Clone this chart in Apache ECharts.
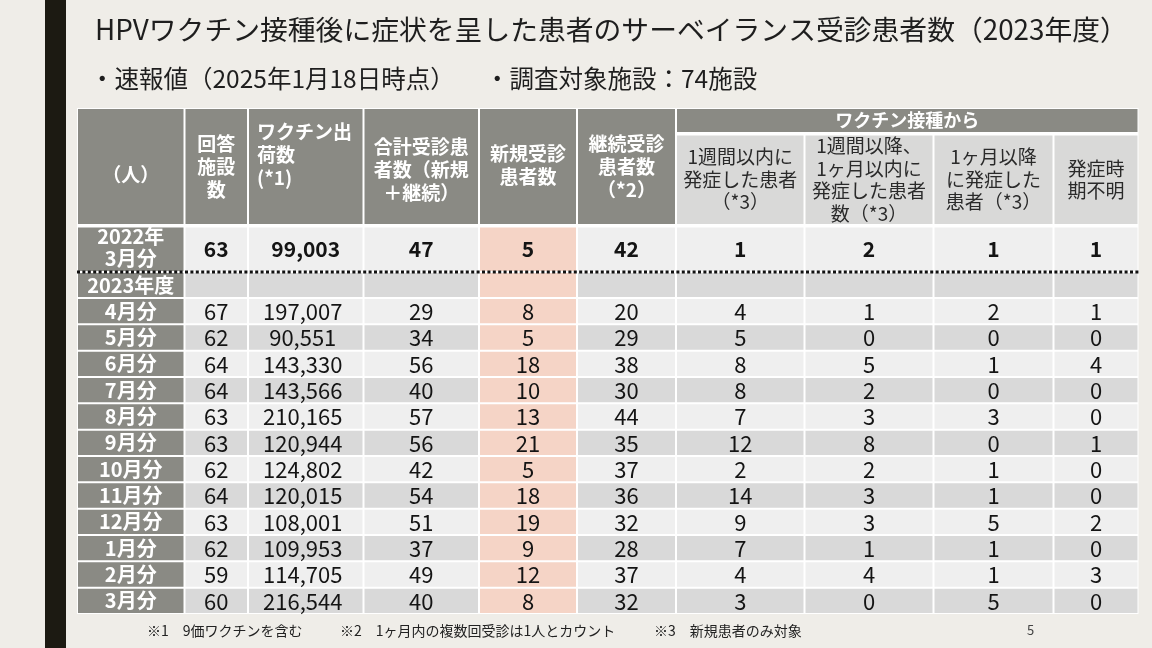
<!DOCTYPE html>
<html>
<head>
<meta charset="utf-8">
<script src="https://cdn.jsdelivr.net/npm/echarts@6/dist/echarts.min.js"></script>
<style>
html,body{margin:0;padding:0;background:#efede8;}
#main{width:1152px;height:648px;}
</style>
</head>
<body>
<div id="main"></div>
<script>
// ---------- data ----------
const titleText = 'HPVワクチン接種後に症状を呈した患者のサーベイランス受診患者数（2023年度）';
const subtitle1 = '・速報値（2025年1月18日時点）';
const subtitle2 = '・調査対象施設：74施設';
const footnotes = ['※1　9価ワクチンを含む', '※2　1ヶ月内の複数回受診は1人とカウント', '※3　新規患者のみ対象'];
const pageNo = '5';

const headerLabels = ['（人）', '回答\n施設\n数', 'ワクチン出\n荷数\n(*1)', '合計受診患\n者数（新規\n＋継続）', '新規受診\n患者数', '継続受診\n患者数\n（*2）'];
const bandLabel = 'ワクチン接種から';
const subLabels = ['1週間以内に\n発症した患者\n（*3）', '1週間以降、\n1ヶ月以内に\n発症した患者\n数（*3）', '1ヶ月以降\nに発症した\n患者（*3）', '発症時\n期不明'];

const baseLabel = '2022年\n3月分';
const baseValues = [63, 99003, 47, 5, 42, 1, 2, 1, 1];
const yearLabel = '2023年度';

const months = ['4月分','5月分','6月分','7月分','8月分','9月分','10月分','11月分','12月分','1月分','2月分','3月分'];
const facilities = [67, 62, 64, 64, 63, 63, 62, 64, 63, 62, 59, 60];
const shipments = [197007, 90551, 143330, 143566, 210165, 120944, 124802, 120015, 108001, 109953, 114705, 216544];
const totalPatients = [29, 34, 56, 40, 57, 56, 42, 54, 51, 37, 49, 40];
const newPatients = [8, 5, 18, 10, 13, 21, 5, 18, 19, 9, 12, 8];
const continuingPatients = [20, 29, 38, 30, 44, 35, 37, 36, 32, 28, 37, 32];
const within1Week = [4, 5, 8, 8, 7, 12, 2, 14, 9, 7, 4, 3];
const week1ToMonth1 = [1, 0, 5, 2, 3, 8, 2, 3, 3, 1, 4, 0];
const after1Month = [2, 0, 1, 0, 3, 0, 1, 1, 5, 1, 1, 5];
const onsetUnknown = [1, 0, 4, 0, 0, 1, 0, 0, 2, 0, 3, 0];

// ---------- layout (table units = px) ----------
const colEdges = [0, 107.5, 171, 286.5, 402, 500, 599, 727.5, 856.5, 976.5, 1061.5];
const tableH = 506;
const headerBottom = 117, bandBottom = 25, subTop = 26.5;
const baseTop = 118.5, baseBottom = 164, yearBottom = 190;
const rowPitch = (tableH - yearBottom) / months.length;

const FONT = '"Noto Sans CJK JP","Noto Sans CJK SC",sans-serif';
const C = {
  head: '#8a8a84', sub: '#d9d9d8', light: '#efefef', dark: '#d9d9d9',
  salmon: '#f5d4c6', white: '#ffffff', text: '#141414', subText: '#2a2a2a'
};
const headerDy = [8.5, 0, -11.5, 3.5, -1.5, 0];

const fmt = v => String(v).replace(/\B(?=(\d{3})+(?!\d))/g, ',');

const cells = [];
function addCell(x0, y0, x1, y1, opt) {
  cells.push(Object.assign({ box: [x0, y0, x1, y1] }, opt));
}
// white base
addCell(0, 0, colEdges[10], tableH, { fill: C.white, inset: 0 });
// header cols
headerLabels.forEach((t, c) => {
  addCell(colEdges[c], 0, colEdges[c + 1], headerBottom, {
    fill: C.head, text: t, color: '#ffffff', weight: 'bold', size: 19, lh: 23,
    dy: headerDy[c], align: c === 2 ? 'left' : 'center', pad: 8
  });
});
addCell(colEdges[6], 0, colEdges[10], bandBottom, {
  fill: C.head, text: bandLabel, color: '#ffffff', weight: 'bold', size: 18, lh: 20, dy: 0
});
subLabels.forEach((t, i) => {
  addCell(colEdges[6 + i], subTop, colEdges[7 + i], headerBottom, {
    fill: C.sub, text: t, color: C.subText, weight: 'normal', size: 19, lh: 22.5, dy: 0
  });
});
// 2022 baseline row
addCell(colEdges[0], baseTop, colEdges[1], baseBottom, {
  fill: C.head, text: baseLabel, color: '#ffffff', weight: 'bold', size: 20, lh: 22, dy: -2
});
baseValues.forEach((v, i) => {
  addCell(colEdges[1 + i], baseTop, colEdges[2 + i], baseBottom, {
    fill: i === 3 ? C.salmon : C.light, text: fmt(v), color: C.text, weight: 'bold', size: 21, lh: 22, dy: 0
  });
});
// 2023 year label row
addCell(colEdges[0], baseBottom, colEdges[1], yearBottom, {
  fill: C.head, text: yearLabel, color: '#ffffff', weight: 'bold', size: 20, lh: 22, dy: 0
});
for (let i = 0; i < 9; i++) {
  addCell(colEdges[1 + i], baseBottom, colEdges[2 + i], yearBottom, { fill: i === 3 ? C.salmon : C.dark });
}
// monthly rows
const monthCols = [facilities, shipments, totalPatients, newPatients, continuingPatients, within1Week, week1ToMonth1, after1Month, onsetUnknown];
months.forEach((m, r) => {
  const y0 = yearBottom + r * rowPitch, y1 = y0 + rowPitch;
  const rowFill = r % 2 === 0 ? C.light : C.dark;
  addCell(colEdges[0], y0, colEdges[1], y1, {
    fill: C.head, text: m, color: '#ffffff', weight: 'bold', size: 20, lh: 22, dy: 0
  });
  monthCols.forEach((arr, i) => {
    addCell(colEdges[1 + i], y0, colEdges[2 + i], y1, {
      fill: i === 3 ? C.salmon : rowFill, text: fmt(arr[r]), color: C.text, weight: 'normal', size: 22, lh: 24, dy: 0.5,
      dx: i === 1 ? -3 : 0
    });
  });
});
// dotted separator
cells.push({ box: [0, baseBottom, colEdges[10], baseBottom], line: true });

function renderItem(params, api) {
  const c = cells[params.dataIndex];
  const p0 = api.coord([api.value(0), api.value(1)]);
  const p1 = api.coord([api.value(2), api.value(3)]);
  if (c.line) {
    return {
      type: 'line',
      shape: { x1: p0[0], y1: p0[1], x2: p1[0], y2: p1[1] },
      style: { stroke: '#111111', lineWidth: 3, lineDash: [3, 2.4] }
    };
  }
  const ins = c.inset === undefined ? 1 : c.inset;
  const x = p0[0] + ins, y = p0[1] + ins;
  const w = p1[0] - p0[0] - 2 * ins, h = p1[1] - p0[1] - 2 * ins;
  const children = [{ type: 'rect', shape: { x, y, width: w, height: h }, style: { fill: c.fill } }];
  if (c.text) {
    children.push({
      type: 'text',
      style: {
        text: c.text,
        x: c.align === 'left' ? x + c.pad : x + w / 2 + (c.dx || 0),
        y: y + h / 2 + (c.dy || 0),
        align: c.align || 'center',
        verticalAlign: 'middle',
        fill: c.color,
        font: `${c.weight} ${c.size}px ${FONT}`,
        lineHeight: c.lh
      }
    });
  }
  return { type: 'group', children };
}

const chart = echarts.init(document.getElementById('main'), null, { renderer: 'canvas' });
chart.setOption({
  backgroundColor: '#efede8',
  animation: false,
  title: [
    { text: titleText, left: 95, top: 16, padding: 0, textStyle: { fontFamily: FONT, fontSize: 27.8, fontWeight: 'normal', color: '#1e1e1e' } },
    { text: subtitle1, left: 90, top: 66, padding: 0, textStyle: { fontFamily: FONT, fontSize: 24.5, fontWeight: 'normal', color: '#1e1e1e' } },
    { text: subtitle2, left: 485, top: 66, padding: 0, textStyle: { fontFamily: FONT, fontSize: 24.5, fontWeight: 'normal', color: '#1e1e1e' } },
    { text: footnotes[0], left: 147, top: 624, padding: 0, textStyle: { fontFamily: FONT, fontSize: 14, fontWeight: 'normal', color: '#222' } },
    { text: footnotes[1], left: 340, top: 624, padding: 0, textStyle: { fontFamily: FONT, fontSize: 14, fontWeight: 'normal', color: '#222' } },
    { text: footnotes[2], left: 654, top: 624, padding: 0, textStyle: { fontFamily: FONT, fontSize: 14, fontWeight: 'normal', color: '#222' } },
    { text: pageNo, left: 1027, top: 624, padding: 0, textStyle: { fontFamily: FONT, fontSize: 13, fontWeight: 'normal', color: '#444' } }
  ],
  graphic: [
    { type: 'rect', left: 45, top: 0, shape: { width: 21, height: 648 }, style: { fill: '#1c1a12' } }
  ],
  grid: { left: 77, top: 108, width: colEdges[10], height: tableH, containLabel: false },
  xAxis: { type: 'value', min: 0, max: colEdges[10], show: false },
  yAxis: { type: 'value', min: 0, max: tableH, inverse: true, show: false },
  series: [{
    type: 'custom',
    renderItem,
    clip: false,
    silent: true,
    dimensions: ['x0', 'y0', 'x1', 'y1'],
    encode: { x: [0, 2], y: [1, 3] },
    data: cells.map(c => c.box)
  }]
});
</script>
</body>
</html>
